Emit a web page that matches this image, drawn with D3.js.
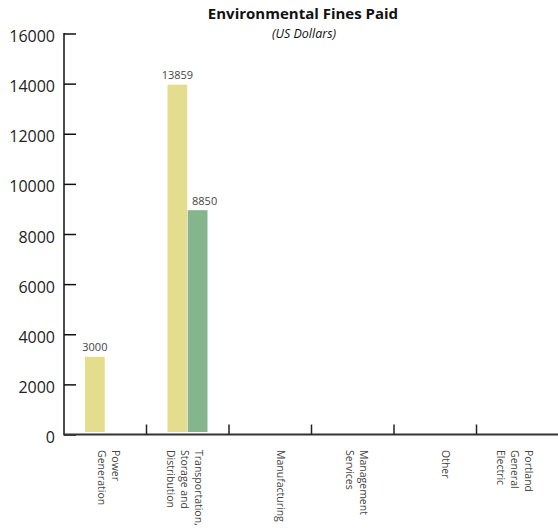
<!DOCTYPE html>
<html>
<head>
<meta charset="utf-8">
<script src="https://cdn.jsdelivr.net/npm/d3@7"></script>
<style>
  body { margin: 0; background: #fff; }
  svg { display: block; font-family: "Open Sans", sans-serif; }
</style>
</head>
<body>
<svg id="chart" width="558" height="529"></svg>
<script>
// --- data ---
const categories = [
  ["Power", "Generation"],
  ["Transportation,", "Storage and", "Distribution"],
  ["Manufacturing"],
  ["Management", "Services"],
  ["Other"],
  ["Portland", "General", "Electric"]
];
const seriesNames = ["seriesA", "seriesB"];
const seriesA = [3000, 13859, 0, 0, 0, 0];
const seriesB = [0, 8850, 0, 0, 0, 0];
const yTicks = [0, 2000, 4000, 6000, 8000, 10000, 12000, 14000, 16000];

const colors = { seriesA: "#e3de8e", seriesB: "#84b58d" };

const svg = d3.select("#chart");
const W = 558, H = 529;
const plotL = 64, plotR = 559, baseY = 434.5, topY = 33.5;

const rows = categories.map((c, i) => ({ i, label: c, seriesA: seriesA[i], seriesB: seriesB[i] }));

const x = d3.scaleBand().domain(d3.range(categories.length)).range([plotL, plotR]).padding(0);
const x1 = d3.scaleBand().domain(seriesNames).range([21, 61]).paddingInner(0.025);
const y = d3.scaleLinear().domain([0, 16000]).range([baseY, topY]);

// --- title ---
svg.append("text")
  .attr("x", 303).attr("y", 19)
  .attr("text-anchor", "middle")
  .attr("font-size", 15).attr("font-weight", "bold").attr("fill", "#111")
  .text("Environmental Fines Paid");
svg.append("text")
  .attr("x", 304).attr("y", 37.5)
  .attr("text-anchor", "middle")
  .attr("font-size", 12.5).attr("font-style", "italic").attr("fill", "#111")
  .text("(US Dollars)");

// --- bars (sit a touch above the axis line) ---
const bars = svg.append("g").attr("transform", "translate(0,-2.5)");
const groups = bars.selectAll("g.cat").data(rows).join("g")
  .attr("class", "cat")
  .attr("transform", d => `translate(${x(d.i)},0)`);

const cells = d => seriesNames.map((k, j) => ({
  k, v: d[k], prev: j > 0 ? d[seriesNames[j - 1]] : 0
}));

groups.selectAll("rect")
  .data(d => cells(d).filter(e => e.v > 0))
  .join("rect")
  .attr("x", d => x1(d.k))
  .attr("width", x1.bandwidth())
  .attr("y", d => y(d.v))
  .attr("height", d => baseY - y(d.v))
  .attr("fill", d => colors[d.k]);

// value labels; nudge right when the bar to the left is taller
groups.selectAll("text.val")
  .data(d => cells(d).filter(e => e.v > 0))
  .join("text")
  .attr("class", "val")
  .attr("x", d => x1(d.k) + x1.bandwidth() / 2 + (d.prev > d.v ? 7 : 0))
  .attr("y", d => y(d.v) - 5.5)
  .attr("text-anchor", "middle")
  .attr("font-size", 11).attr("fill", "#444")
  .text(d => d.v);

// --- y axis ---
const yAxis = svg.append("g")
  .attr("transform", `translate(${plotL},0)`)
  .call(d3.axisRight(y).tickValues(yTicks).tickSize(12).tickFormat(d3.format("d")));
yAxis.select(".domain").remove();
yAxis.selectAll(".tick line").attr("stroke", "#111").attr("stroke-width", 1.5);
yAxis.selectAll(".tick text")
  .attr("x", -9).attr("dy", "0.5em").attr("text-anchor", "end")
  .attr("font-size", 16).attr("fill", "#222")
  .attr("font-family", "'Open Sans', sans-serif");
svg.append("line")
  .attr("x1", plotL).attr("x2", plotL).attr("y1", topY - 0.5).attr("y2", baseY + 1)
  .attr("stroke", "#111").attr("stroke-width", 1.5);

// --- x axis ---
svg.append("line")
  .attr("x1", plotL).attr("x2", W).attr("y1", baseY).attr("y2", baseY)
  .attr("stroke", "#333").attr("stroke-width", 2);
svg.selectAll("line.xt")
  .data(d3.range(1, categories.length))
  .join("line")
  .attr("class", "xt")
  .attr("x1", d => x(d)).attr("x2", d => x(d))
  .attr("y1", baseY - 10).attr("y2", baseY)
  .attr("stroke", "#222").attr("stroke-width", 1.5);

// category labels, rotated to read downward
const lineH = 14;
const labels = svg.selectAll("g.lab").data(rows).join("g")
  .attr("class", "lab")
  .attr("transform", d => `translate(${x(d.i) + 57},450) rotate(90)`);
labels.each(function (d) {
  const t = d3.select(this).append("text")
    .attr("font-size", 10.5).attr("fill", "#444")
    .attr("dominant-baseline", "hanging");
  d.label.forEach((s, j) => {
    t.append("tspan").attr("x", 0).attr("y", j * lineH).text(s);
  });
});
</script>
</body>
</html>
